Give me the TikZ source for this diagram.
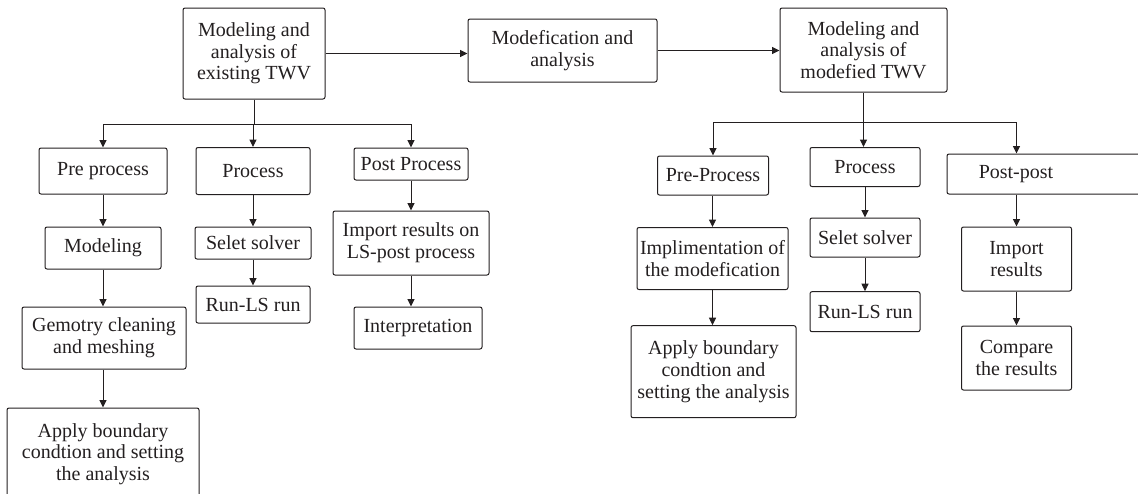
\documentclass[tikz,border=0pt]{standalone}
\usepackage{fontspec}
\setmainfont{Liberation Serif}
\usetikzlibrary{arrows.meta}
\definecolor{ink}{HTML}{231F20}
\begin{document}
\begin{tikzpicture}[x=1pt,y=-1pt,
  box/.style={draw=ink, line width=1pt, rounded corners=2pt, inner sep=0pt, align=center,
    text=ink, font=\fontsize{20}{21.7}\selectfont},
  lbl/.style={inner sep=0pt, text=ink, font=\fontsize{20}{21.7}\selectfont},
  conn/.style={draw=ink, line width=1pt},
  arr/.style={conn, -{Triangle[length=7.5pt,width=7pt]}}]
\useasboundingbox (0,0) rectangle (1138,493);
\clip (0,0) rectangle (1138,493);
% top row
\node[box, minimum width=142, minimum height=91] (top1) at (254,53.5) {Modeling and\\analysis of\\existing TWV};
\node[box, minimum width=189, minimum height=63] (mod) at (562.5,50.5) {Modefication and\\analysis};
\node[box, minimum width=167, minimum height=84] (top2) at (863.5,50) {Modeling and\\analysis of\\modefied TWV};
\draw[arr] (top1.east) -- (top1.east -| mod.west);
\draw[arr] (mod.east) -- (mod.east -| top2.west);
% left tree
\node[box, minimum width=128, minimum height=46] (pre1) at (103,171) {Pre process};
\node[box, minimum width=114, minimum height=47] (proc1) at (253,171) {Process};
\node[box, minimum width=114, minimum height=32] (post1) at (411,164) {Post Process};
\node[box, minimum width=116, minimum height=42] (modl) at (103,248) {Modeling};
\node[box, minimum width=116, minimum height=32] (sel1) at (253,243) {Selet solver};
\node[box, minimum width=156, minimum height=64] (imp1) at (411,243) {Import results on\\LS-post process};
\node[box, minimum width=164, minimum height=62] (geo) at (104,338) {Gemotry cleaning\\and meshing};
\node[box, minimum width=114, minimum height=37] (run1) at (253,304.5) {Run-LS run};
\node[box, minimum width=128, minimum height=42] (interp) at (418,328) {Interpretation};
\node[box, minimum width=192, minimum height=92] (apply1) at (103,454) {Apply boundary\\condtion and setting\\the analysis};
\coordinate (b1) at (253,124);
\draw[conn] (top1.south) -- (top1.south |- b1);
\draw[conn] (b1 -| pre1.north) -- (b1 -| post1.north);
\draw[arr] (b1 -| pre1.north) -- (pre1.north);
\draw[arr] (b1 -| proc1.north) -- (proc1.north);
\draw[arr] (b1 -| post1.north) -- (post1.north);
\draw[arr] (pre1.south) -- (modl.north);
\draw[arr] (modl.south) -- (modl.south |- geo.north);
\draw[arr] (geo.south -| modl.south) -- (modl.south |- apply1.north);
\draw[arr] (proc1.south) -- (sel1.north);
\draw[arr] (sel1.south) -- (run1.north);
\draw[arr] (post1.south) -- (imp1.north);
\draw[arr] (imp1.south) -- (imp1.south |- interp.north);
% right tree
\node[box, minimum width=111, minimum height=39] (pre2) at (713,175.5) {Pre-Process};
\node[box, minimum width=110, minimum height=39] (proc2) at (865,167) {Process};
\node[box, minimum width=198, minimum height=40] (post2) at (1046,174) {};
\node[lbl] (post2t) at (1016,174) {Post-post};
\node[box, minimum width=151, minimum height=62] (impl) at (712.5,258.5) {Implimentation of\\the modefication};
\node[box, minimum width=110, minimum height=39] (sel2) at (865,237.5) {Selet solver};
\node[box, minimum width=110, minimum height=64] (imp2) at (1016.5,259) {Import\\results};
\node[box, minimum width=165, minimum height=92] (apply2) at (713.5,371.7) {Apply boundary\\condtion and\\setting the analysis};
\node[box, minimum width=110, minimum height=40] (run2) at (865,311.7) {Run-LS run};
\node[box, minimum width=110, minimum height=64] (cmp) at (1016.5,358) {Compare\\the results};
\coordinate (b2) at (863.5,122);
\draw[conn] (top2.south) -- (b2);
\draw[conn] (b2 -| pre2.north) -- (b2 -| imp2.north);
\draw[arr] (b2 -| pre2.north) -- (pre2.north);
\draw[arr] (b2) -- (b2 |- proc2.north);
\draw[arr] (b2 -| imp2.north) -- (imp2.north |- post2.north);
\draw[arr] (pre2.south -| impl.north) -- (impl.north);
\draw[arr] (proc2.south) -- (sel2.north);
\draw[arr] (sel2.south) -- (run2.north);
\draw[arr] (imp2.north |- post2.south) -- (imp2.north);
\draw[arr] (imp2.south) -- (cmp.north);
\draw[arr] (impl.south) -- (impl.south |- apply2.north);
\end{tikzpicture}
\end{document}
